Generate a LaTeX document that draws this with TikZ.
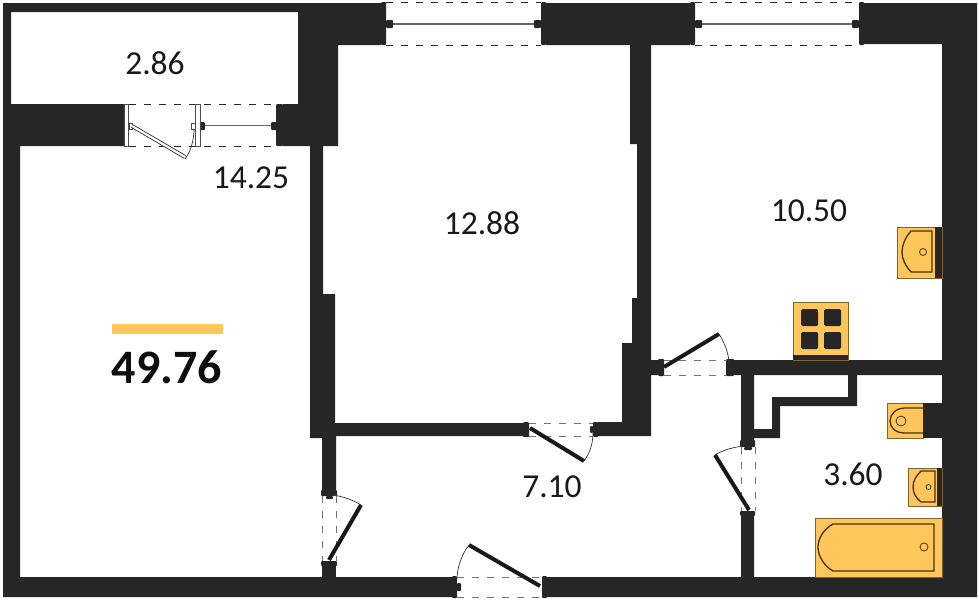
\documentclass[tikz,border=0pt]{standalone}
\usepackage{fontspec}
\setmainfont{Carlito}
\definecolor{wallgray}{HTML}{262626}
\definecolor{fixyellow}{HTML}{FFC65C}
\definecolor{fixline}{HTML}{4A3210}
\tikzset{
  wall/.style={fill=wallgray, even odd rule},
  jamb/.style={fill=wallgray, rounded corners=1pt},
  opening/.style={draw=black!55, line width=0.9pt, dash pattern=on 7pt off 8pt},
  leaf/.style={draw=black!90, line width=4pt},
  swing/.style={draw=black!80, line width=0.7pt},
  sash/.style={draw=black!60, line width=1.2pt},
  fixture/.style={fill=fixyellow, draw=fixyellow!50!black, line width=0.7pt},
  basin/.style={draw=fixline, line width=1.3pt},
  area/.style={text=black!90, font=\fontsize{33.5}{33.5}\selectfont}
}
\begin{document}
\begin{tikzpicture}[x=1pt, y=-1pt]
\useasboundingbox (0,0) rectangle (979,600);
\fill[white] (0,0) rectangle (979,600);

% walls
\path[wall] (3,3) -- (381,3) -- (381,45) -- (338,45) -- (338,146) -- (283,146) -- (283,104) -- (298,104) -- (298,12) -- (11,12) -- (11,104) -- (124,104) -- (124,146) -- (20,146) -- (20,577) -- (452,577) -- (452,597) -- (3,597) -- cycle;
\path[wall] (310,146) -- (323,146) -- (323,294) -- (335,294) -- (335,423) -- (523,423) -- (523,436) -- (336,436) -- (336,490) -- (322,490) -- (322,438) -- (310,438) -- cycle;
\path[wall] (322,566) rectangle (336,577);
\path[wall] (546,3) -- (690,3) -- (690,45) -- (651,45) -- (651,360) -- (658,360) -- (658,375) -- (651,375) -- (651,436) -- (598,436) -- (598,422) -- (622,422) -- (622,343) -- (632,343) -- (632,298) -- (637,298) -- (637,144) -- (630,144) -- (630,45) -- (546,45) -- cycle;
% right side, bottom and the shaft
\path[wall] (864,3) -- (977,3) -- (977,597) -- (547,597) -- (547,577) -- (741,577) -- (741,516) -- (754,516) -- (754,577) -- (942,577) -- (942,375) -- (857,375) -- (857,406) -- (780,406) -- (780,438) -- (754,438) -- (754,440) -- (741,440) -- (741,375) -- (734,375) -- (734,360) -- (942,360) -- (942,44) -- (864,44) -- cycle
  (754,375) -- (848,375) -- (848,397) -- (772,397) -- (772,429) -- (754,429) -- cycle;

% windows on top
\foreach \xa/\xb in {381/546, 690/864} {
  \draw[opening, black!85] (\xa+5,2.5) -- (\xb-5,2.5);
  \draw[opening, black!85] (\xa+5,45) -- (\xb-5,45);
  \draw[sash] (\xa+8,24) -- (\xb-8,24);
  \path[jamb] (\xa,2) rectangle (\xa+5,45);
  \path[jamb] (\xb-5,2) rectangle (\xb,45);
  \path[jamb] (\xa+5,20) rectangle (\xa+12,28);
  \path[jamb] (\xb-12,20) rectangle (\xb-5,28);
}

% balcony door and window
\draw[opening, black!85] (129,104) -- (277,104);
\draw[opening, black!85] (129,146) -- (277,146);
\draw[sash, line width=0.9pt] (203,125) -- (273,125);
\path[jamb] (276,104) rectangle (283,146);
\path[jamb] (200,122) rectangle (205,130);
\path[jamb] (271,122) rectangle (277,130);
\fill[white] (124,104) rectangle (129,146);
\fill[white] (195,104) rectangle (201,146);
\draw[line width=0.7pt, black!70] (124.5,104) rectangle (128.5,146);
\draw[line width=0.7pt, black!70] (195.5,104) rectangle (200.5,146);
\draw[line width=0.6pt, black!70] (191.5,123) rectangle (195,129);
\draw[line width=0.6pt, black!70] (129,123) rectangle (132,129);
\draw[black!85, line width=0.8pt, double=white, double distance=2.2pt] (132,126) -- (185,157);
\draw[swing] (185,159) .. controls (191,151) and (194,140) .. (194,129);

% inner doors
\path[jamb] (523,422) rectangle (529,437);
\path[jamb] (593,422) rectangle (598,437);
\path[jamb] (590,426) rectangle (593,433);
\draw[opening] (529,423) -- (593,423);
\draw[opening] (529,436) -- (593,436);
\draw[leaf] (530,428) -- (584,461);
\draw[swing] (584,461) .. controls (589,454) and (593,445) .. (593,433);

\path[jamb] (658,359) rectangle (664,376);
\path[jamb] (726,359) rectangle (734,376);
\draw[opening] (664,360) -- (727,360);
\draw[opening] (664,375) -- (727,375);
\draw[leaf] (664,367) -- (719,334);
\draw[swing] (719,334) .. controls (724,342) and (728,351) .. (729,362);

\path[jamb] (321,490) rectangle (337,496);
\path[jamb] (321,561) rectangle (337,566);
\path[jamb] (326,496) rectangle (333,499);
\draw[opening] (322,496) -- (322,561);
\draw[opening] (336,496) -- (336,561);
\draw[leaf] (329,560) -- (361,505);
\draw[swing] (361,505) .. controls (353,500) and (345,497) .. (333,495);

\path[jamb] (452,576) rectangle (457,598);
\path[jamb] (542,576) rectangle (547,598);
\path[jamb] (457,583) rectangle (461,591);
\draw[opening] (457,577) -- (542,577);
\draw[opening] (457,597) -- (542,597);
\draw[leaf] (540,586) -- (469,545);
\draw[swing] (469,545) .. controls (462,554) and (458,565) .. (457,577);

\path[jamb] (740,440) rectangle (755,447);
\path[jamb] (740,511) rectangle (755,516);
\path[jamb] (744,447) rectangle (752,450);
\draw[opening] (741,447) -- (741,511);
\draw[opening] (755,447) -- (755,511);
\draw[leaf] (749,510) -- (715,455);
\draw[swing] (715,455) .. controls (723,450) and (733,447) .. (745,446);

% kitchen sink
\path[fixture] (897,227) rectangle (942,278);
\fill[wallgray] (935,227) rectangle (942,278);
\draw[basin] (932,231) -- (911,231) .. controls (905,238) and (902,245) .. (902,252) .. controls (902,259) and (905,265) .. (911,272) -- (932,272) -- cycle;
\draw[basin, line width=0.8pt] (923,252) circle (3.5);

% cooktop
\path[fixture] (793,302) rectangle (848,360);
\fill[wallgray] (793,355) rectangle (848,360);
\foreach \xb in {801,824} {
  \foreach \yb in {309,332} {
    \fill[wallgray, rounded corners=1.5pt] (\xb,\yb) rectangle (\xb+17,\yb+17);
  }
}

% toilet
\path[fixture] (887,403) rectangle (923,438);
\fill[wallgray] (923,403) rectangle (942,438);
\draw[basin] (923,408) -- (905,408) .. controls (896,408) and (890,414) .. (890,421) .. controls (890,428) and (896,433) .. (905,433) -- (923,433);
\draw[basin, line width=0.8pt] (901,421) circle (5);

% bathroom sink
\path[fixture] (908,468) rectangle (942,506);
\fill[wallgray] (937,468) rectangle (942,506);
\draw[basin] (935,471) -- (921,471) .. controls (916,476) and (913,481) .. (913,487) .. controls (913,493) and (916,498) .. (921,502) -- (935,502) -- cycle;
\draw[basin, line width=0.8pt] (928.5,487) circle (2.5);

% bath
\path[fixture] (815,518) rectangle (942,577);
\draw[basin] (934,524) -- (833,524) .. controls (824,529) and (818,538) .. (818,547) .. controls (818,556) and (824,566) .. (833,571) -- (934,571) -- cycle;
\draw[basin, line width=0.8pt] (924,547) circle (4);

% areas
\node[area] (balcony) at (155,63) {2.86};
\node[area] (living) at (251,178) {14.25};
\node[area] (bedroom) at (482,223) {12.88};
\node[area] (kitchen) at (809,211) {10.50};
\node[area] (hall) at (552,487) {7.10};
\node[area] (bathroom) at (853,474) {3.60};

% total
\fill[fixyellow] (112,324) rectangle (223,334);
\node[text=black!95, font=\bfseries\fontsize{48}{48}\selectfont] (total) at (167,367) {49.76};
\end{tikzpicture}
\end{document}
